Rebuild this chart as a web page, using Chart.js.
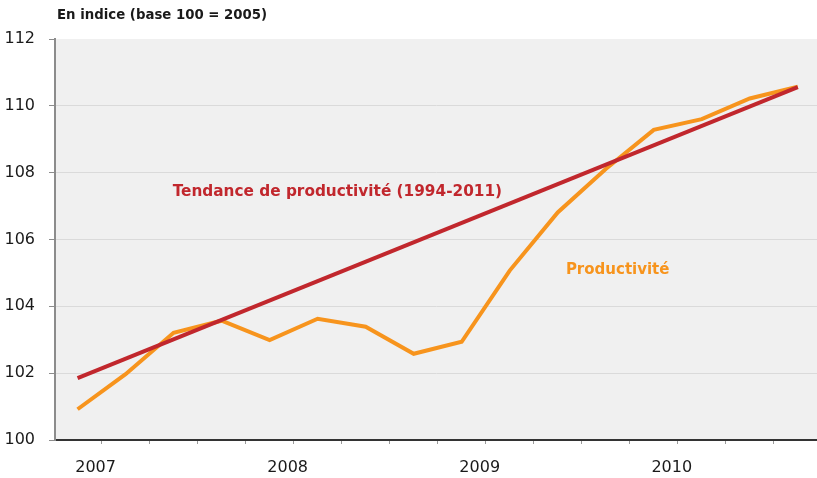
<!DOCTYPE html>
<html>
<head>
<meta charset="utf-8">
<script src="https://cdn.jsdelivr.net/npm/chart.js@4/dist/chart.umd.min.js"></script>
<style>
  body { margin: 0; background: #fff; }
</style>
</head>
<body>
<canvas id="myChart" width="817" height="478"></canvas>
<script>
// quarterly data 2007 - 2010
let trimestres = [
  '2007T1', '2007T2', '2007T3', '2007T4',
  '2008T1', '2008T2', '2008T3', '2008T4',
  '2009T1', '2009T2', '2009T3', '2009T4',
  '2010T1', '2010T2', '2010T3', '2010T4',
];
let annees = ['2007', '2008', '2009', '2010'];
let productivite = [
  100.92, 101.97, 103.21, 103.57,
  102.99, 103.63, 103.39, 102.58,
  102.94, 105.07, 106.81, 108.11,
  109.28, 109.60, 110.22, 110.57,
];
// trend line: first and last quarter
let tendance = [101.85, 110.56];
let yTicks = [100, 102, 104, 106, 108, 110, 112];

let titre = 'En indice (base 100 = 2005)';
let labelTendance = 'Tendance de productivité (1994-2011)';
let labelProductivite = 'Productivité';

const rouge = '#c1272d';
const orange = '#f7941d';

let prodPoints = [];
for (let i = 0; i < trimestres.length; i++) {
  prodPoints.push({ x: i, y: productivite[i] });
}
let tendPoints = [
  { x: 0, y: tendance[0] },
  { x: trimestres.length - 1, y: tendance[1] },
];

// ticks sit between quarters
let xTickValues = [];
for (let i = 0; i < trimestres.length - 1; i++) {
  xTickValues.push(i + 0.5);
}

const textPlugin = {
  id: 'textPlugin',
  beforeDraw(chart) {
    let a = chart.chartArea;
    let c = chart.ctx;
    c.save();
    c.fillStyle = '#f0f0f0';
    c.fillRect(a.left, a.top, a.right - a.left, a.bottom - a.top);
    c.restore();
  },
  afterDatasetsDraw(chart) {
    let c = chart.ctx;
    let xs = chart.scales.x;
    let ys = chart.scales.y;
    c.save();
    c.textBaseline = 'middle';
    c.textAlign = 'left';
    c.font = 'bold 15.3px "DejaVu Sans"';
    c.fillStyle = rouge;
    c.fillText(labelTendance, xs.getPixelForValue(1.98), ys.getPixelForValue(107.43));
    c.font = 'bold 15px "DejaVu Sans"';
    c.fillStyle = orange;
    c.fillText(labelProductivite, xs.getPixelForValue(10.17), ys.getPixelForValue(105.07));
    c.font = 'bold 13.3px "DejaVu Sans"';
    c.fillStyle = '#1a1a1a';
    c.fillText(titre, chart.chartArea.left + 2, 16);
    c.restore();
  }
};

var ctx = document.getElementById('myChart').getContext('2d');
var myChart = new Chart(ctx, {
  type: 'line',
  data: {
    datasets: [{
      label: labelTendance,
      data: tendPoints,
      borderColor: rouge,
      borderWidth: 4,
      pointRadius: 0,
      tension: 0
    },
    {
      label: labelProductivite,
      data: prodPoints,
      borderColor: orange,
      borderWidth: 4,
      pointRadius: 0,
      tension: 0
    }]
  },
  plugins: [textPlugin],
  options: {
    responsive: false,
    animation: false,
    layout: { padding: { top: 39, right: 0, bottom: 0, left: 0 } },
    plugins: {
      legend: { display: false },
      tooltip: { enabled: false },
      title: { display: false }
    },
    scales: {
      x: {
        type: 'linear',
        min: -0.47,
        max: 15.4,
        afterBuildTicks: function (scale) {
          scale.ticks = xTickValues.map(v => ({ value: v }));
        },
        afterFit: function (scale) {
          scale.height = 38;
        },
        grid: {
          drawOnChartArea: false,
          drawTicks: true,
          tickLength: 4,
          tickColor: '#999999',
          tickWidth: 1
        },
        border: { color: '#333333', width: 2 },
        ticks: {
          autoSkip: false,
          maxRotation: 0,
          padding: 14,
          labelOffset: -6,
          color: '#1a1a1a',
          font: { family: 'DejaVu Sans', size: 16 },
          callback: function (value) {
            let k = (value - 0.5) / 4;
            if (Number.isInteger(k) && k < annees.length) {
              return annees[k];
            }
            return '';
          }
        }
      },
      y: {
        min: 100,
        max: 112,
        afterBuildTicks: function (scale) {
          scale.ticks = yTicks.map(v => ({ value: v }));
        },
        afterFit: function (scale) {
          scale.width = 55;
        },
        grid: {
          color: function (c) {
            if (c.tick && (c.tick.value === 112 || c.tick.value === 100)) return 'rgba(0,0,0,0)';
            return '#dadada';
          },
          lineWidth: 1,
          drawTicks: true,
          tickLength: 6,
          tickColor: '#8c8c8c'
        },
        border: { color: '#8c8c8c', width: 2 },
        ticks: {
          padding: 14,
          color: '#1a1a1a',
          font: { family: 'DejaVu Sans', size: 16 }
        }
      }
    }
  }
});
</script>
</body>
</html>
